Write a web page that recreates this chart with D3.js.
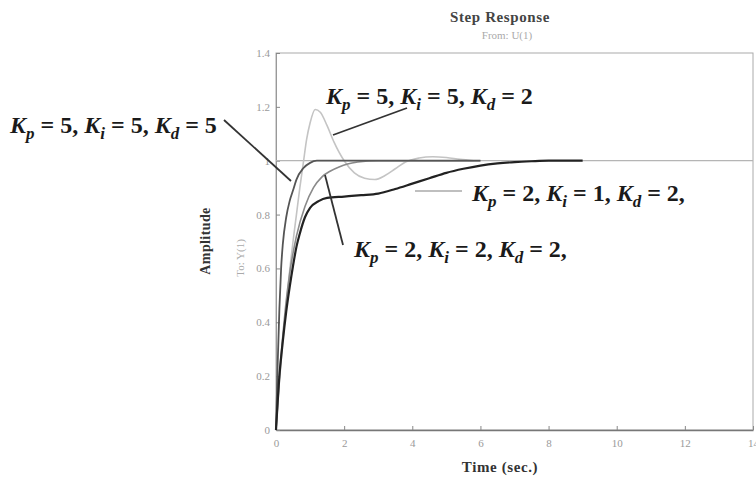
<!DOCTYPE html>
<html>
<head>
<meta charset="utf-8">
<script src="https://cdn.jsdelivr.net/npm/d3@7"></script>
<style>
  html, body { margin: 0; padding: 0; background: #fff; }
  svg { display: block; }
  .tick text { font-family: "Liberation Serif", serif; font-size: 11px; fill: #9a9a9a; }
  .lbl { font-family: "Liberation Serif", serif; font-size: 24px; font-weight: bold; fill: #1a1a1a; }
  .sub { font-size: 17px; font-style: italic; }
</style>
</head>
<body>
<div id="chart"></div>
<script>
// step responses
const timeA = [0, 0.05, 0.1, 0.15, 0.2, 0.3, 0.4, 0.5, 0.6, 0.8, 1.0, 1.2, 1.5, 2, 3, 4, 5, 6];
const respA = [0, 0.25, 0.45, 0.6, 0.69, 0.79, 0.85, 0.89, 0.93, 0.972, 0.992, 1.0, 1.0, 1.0, 1.0, 1.0, 1.0, 1.0];

const timeB = [0, 0.1, 0.2, 0.3, 0.4, 0.5, 0.6, 0.7, 0.8, 0.9, 1.0, 1.15, 1.3, 1.5, 1.7, 2.0, 2.3, 2.6, 2.9, 3.2, 3.5, 3.8, 4.2, 4.6, 5.0, 5.4, 5.8];
const respB = [0, 0.18, 0.33, 0.46, 0.59, 0.7, 0.8, 0.9, 0.99, 1.08, 1.14, 1.19, 1.18, 1.13, 1.07, 1.0, 0.955, 0.935, 0.93, 0.945, 0.97, 0.995, 1.01, 1.015, 1.012, 1.005, 1.0];

const timeC = [0, 0.1, 0.2, 0.3, 0.4, 0.6, 0.85, 1.1, 1.35, 1.6, 1.85, 2.1, 2.4, 3, 4, 5, 6];
const respC = [0, 0.2, 0.35, 0.48, 0.58, 0.72, 0.83, 0.9, 0.94, 0.962, 0.977, 0.988, 0.995, 1.0, 1.0, 1.0, 1.0];

const timeD = [0, 0.1, 0.2, 0.3, 0.4, 0.5, 0.6, 0.7, 0.85, 1.0, 1.25, 1.5, 2, 2.5, 3, 3.5, 4, 4.5, 5, 5.5, 6, 6.5, 7, 7.5, 8, 8.5, 9];
const respD = [0, 0.2, 0.33, 0.44, 0.53, 0.61, 0.68, 0.73, 0.79, 0.825, 0.85, 0.862, 0.867, 0.872, 0.878, 0.895, 0.915, 0.935, 0.955, 0.97, 0.982, 0.99, 0.995, 0.998, 1.0, 1.0, 1.0];

const xTicks = [0, 2, 4, 6, 8, 10, 12, 14];
const yTicks = [0, 0.2, 0.4, 0.6, 0.8, 1, 1.2, 1.4];

const W = 756, H = 477;
const plot = { left: 276, right: 753, top: 53, bottom: 430 };

const svg = d3.select('#chart').append('svg')
  .attr('width', W).attr('height', H);

const x = d3.scaleLinear().domain([0, 14]).range([plot.left, plot.right]);
const y = d3.scaleLinear().domain([0, 1.4]).range([plot.bottom, plot.top]);

// frame
svg.append('rect')
  .attr('x', plot.left).attr('y', plot.top)
  .attr('width', plot.right - plot.left).attr('height', plot.bottom - plot.top)
  .attr('fill', 'none').attr('stroke', '#aaa').attr('stroke-width', 1);

const xAxis = svg.append('g')
  .attr('transform', `translate(0,${plot.bottom})`)
  .call(d3.axisBottom(x).tickValues(xTicks).tickSizeInner(-4).tickSizeOuter(0).tickPadding(9));
const yAxis = svg.append('g')
  .attr('transform', `translate(${plot.left},0)`)
  .call(d3.axisLeft(y).tickValues(yTicks).tickFormat(d3.format('~g')).tickSizeInner(-4).tickSizeOuter(0).tickPadding(6));
xAxis.select('.domain').attr('stroke', '#777').attr('stroke-width', 1.5);
yAxis.select('.domain').attr('stroke', '#999');
svg.selectAll('.tick line').attr('stroke', '#888');

// steady-state reference
svg.append('line')
  .attr('x1', x(0)).attr('x2', x(14)).attr('y1', y(1)).attr('y2', y(1))
  .attr('stroke', '#b5b5b5').attr('stroke-width', 1.2);

const line = d3.line().x(d => x(d[0])).y(d => y(d[1])).curve(d3.curveMonotoneX);
const series = [
  { t: timeB, v: respB, color: '#c4c4c4', w: 1.6 },
  { t: timeC, v: respC, color: '#8a8a8a', w: 1.6 },
  { t: timeA, v: respA, color: '#555', w: 1.8 },
  { t: timeD, v: respD, color: '#222', w: 2.2 }
];
series.forEach(s => {
  svg.append('path')
    .datum(d3.zip(s.t, s.v))
    .attr('d', line)
    .attr('fill', 'none')
    .attr('stroke', s.color)
    .attr('stroke-width', s.w);
});

// titles
const serif = '"Liberation Serif", serif';
svg.append('text').attr('x', 500).attr('y', 22).attr('text-anchor', 'middle')
  .style('font-family', serif).style('font-size', '15px').style('font-weight', 'bold')
  .style('letter-spacing', '0.6px').style('fill', '#444')
  .text('Step Response');
svg.append('text').attr('x', 507).attr('y', 39).attr('text-anchor', 'middle')
  .style('font-family', serif).style('font-size', '11px').style('fill', '#aaa')
  .text('From: U(1)');
svg.append('text').attr('x', 500).attr('y', 472).attr('text-anchor', 'middle')
  .style('font-family', serif).style('font-size', '15px').style('font-weight', 'bold')
  .style('letter-spacing', '0.6px').style('fill', '#333')
  .text('Time (sec.)');
svg.append('text').attr('transform', 'translate(210,241) rotate(-90)').attr('text-anchor', 'middle')
  .style('font-family', serif).style('font-size', '14px').style('font-weight', 'bold')
  .style('letter-spacing', '0.4px').style('fill', '#333')
  .text('Amplitude');
svg.append('text').attr('transform', 'translate(244,258) rotate(-90)').attr('text-anchor', 'middle')
  .style('font-family', serif).style('font-size', '11px').style('fill', '#aaa')
  .text('To: Y(1)');

// gain annotations
const labels = [
  { x: 10, y: 133, g: ['5', '5', '5'], comma: false },
  { x: 326, y: 104, g: ['5', '5', '2'], comma: false },
  { x: 472, y: 201, g: ['2', '1', '2'], comma: true },
  { x: 354, y: 257, g: ['2', '2', '2'], comma: true }
];
labels.forEach(l => {
  const t = svg.append('text').attr('class', 'lbl').attr('x', l.x).attr('y', l.y);
  ['p', 'i', 'd'].forEach((s, i) => {
    t.append('tspan').style('font-style', 'italic').text('K');
    t.append('tspan').attr('class', 'sub').attr('dy', 6).text(s);
    t.append('tspan').attr('dy', -6).text(` = ${l.g[i]}` + (i < 2 ? ', ' : (l.comma ? ',' : '')));
  });
});

const pointers = [
  [[224, 120], [291, 181]],
  [[407, 108], [333, 135]],
  [[343, 245], [325, 175]]
];
pointers.forEach(p => {
  svg.append('line')
    .attr('x1', p[0][0]).attr('y1', p[0][1]).attr('x2', p[1][0]).attr('y2', p[1][1])
    .attr('stroke', '#333').attr('stroke-width', 1.8);
});
// legend-like swatch next to the Kp=2, Ki=1 label
svg.append('line')
  .attr('x1', 415).attr('x2', 462).attr('y1', 191).attr('y2', 191)
  .attr('stroke', '#aaa').attr('stroke-width', 1.5);
</script>
</body>
</html>
